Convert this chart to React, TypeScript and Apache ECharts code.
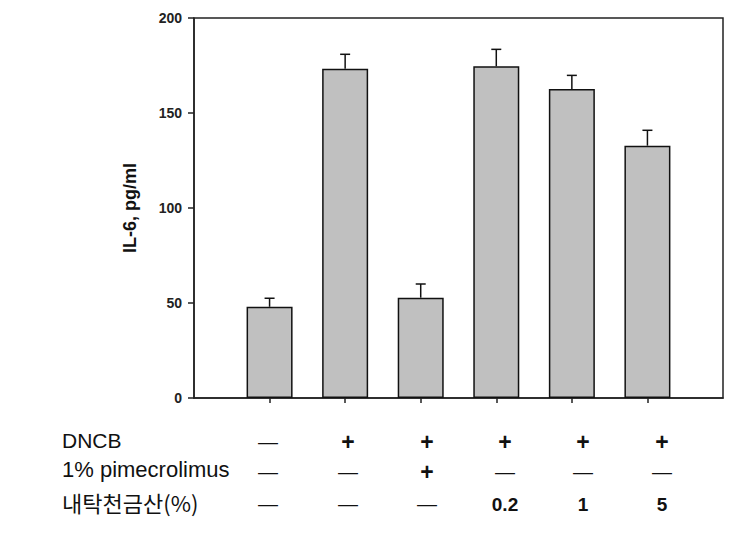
import React, { useEffect, useRef } from "react";
import * as echarts from "echarts";

// Data
const groups = ["Control", "DNCB", "DNCB + 1% pimecrolimus", "DNCB + 0.2%", "DNCB + 1%", "DNCB + 5%"];
const groupPos = [1, 2, 3, 4, 5, 6];
const il6Mean = [48, 173.3, 52.8, 174.6, 162.6, 132.8];
const il6ErrTop = [52.5, 180.9, 60, 183.5, 169.8, 140.9];
const yTicks = [0, 50, 100, 150, 200];

const rowLabels = ["DNCB", "1% pimecrolimus", "내탁천금산(%)"];
const rowDNCB = ["—", "+", "+", "+", "+", "+"];
const rowPime = ["—", "—", "+", "—", "—", "—"];
const rowHerb = ["—", "—", "—", "0.2", "1", "5"];

// Layout (positions only)
const colX = [268, 348, 427, 505, 583, 662];
const rowY = [442, 472, 504];
const labelY = [440, 469, 502];
const labelX = 62;

export default function App() {
  const ref = useRef<HTMLDivElement>(null);
  useEffect(() => {
    if (!ref.current) return;
    const chart = echarts.init(ref.current, null, { renderer: "svg" });
    const rows = [rowDNCB, rowPime, rowHerb];
    const graphics: any[] = [];
    rowLabels.forEach((l, i) => {
      graphics.push({
        type: "text",
        x: labelX,
        y: labelY[i],
        style: {
          text: l,
          verticalAlign: "middle",
          font: i === 2 ? "22px 'Noto Sans CJK KR', Arial, sans-serif" : i === 0 ? "21px Arial, 'Liberation Sans', sans-serif" : "22px Arial, 'Liberation Sans', sans-serif",
          fill: "#111",
        },
      });
    });
    rows.forEach((r, i) => {
      r.forEach((s, j) => {
        const isDash = s === "—";
        graphics.push({
          type: "text",
          x: colX[j],
          y: rowY[i],
          style: {
            text: s,
            align: "center",
            verticalAlign: "middle",
            font: isDash
              ? "20px Arial, 'Liberation Sans', sans-serif"
              : s === "+"
              ? "bold 23px Arial, 'Liberation Sans', sans-serif"
              : "bold 19px Arial, 'Liberation Sans', sans-serif",
            fill: "#111",
          },
        });
      });
    });

    chart.setOption({
      animation: false,
      backgroundColor: "#fff",
      grid: {
        left: 194,
        top: 18,
        right: 31,
        bottom: 146,
        show: true,
        borderColor: "#222",
        borderWidth: 1.5,
      },
      xAxis: {
        type: "value",
        min: 0,
        max: 7,
        interval: 1,
        splitLine: { show: false },
        axisLine: { show: true, lineStyle: { color: "#222", width: 1.5 } },
        axisTick: {
          show: true,
          inside: false,
          length: 5,
          customValues: groupPos,
          lineStyle: { color: "#222", width: 1.5 },
        },
        axisLabel: { show: false },
      },
      yAxis: {
        type: "value",
        min: 0,
        max: 200,
        interval: 50,
        name: "IL-6, pg/ml",
        nameLocation: "middle",
        nameGap: 55,
        nameTextStyle: { fontFamily: "Arial, 'Liberation Sans', sans-serif", fontWeight: "bold", fontSize: 18, color: "#111" },
        splitLine: { show: false },
        axisLine: { show: true, lineStyle: { color: "#222", width: 1.5 } },
        axisTick: { show: true, length: 6, lineStyle: { color: "#222", width: 1.5 } },
        axisLabel: {
          margin: 12,
          fontFamily: "Arial, 'Liberation Sans', sans-serif",
          fontWeight: "bold",
          fontSize: 14,
          color: "#222",
          customValues: yTicks,
        },
      },
      series: [
        {
          type: "bar",
          name: "IL-6",
          data: groupPos.map((x, i) => [x, il6Mean[i]]),
          barWidth: 46,
          itemStyle: { color: "#c0c0c0", borderColor: "#111", borderWidth: 1.5 },
          z: 2,
        },
        {
          type: "custom",
          name: "error",
          data: groupPos.map((x, i) => [x, il6Mean[i], il6ErrTop[i]]),
          z: 3,
          renderItem: (params: any, api: any) => {
            const x = api.value(0);
            const lo = api.coord([x, api.value(1)]);
            const hi = api.coord([x, api.value(2)]);
            const cap = 5;
            const style = { stroke: "#111", lineWidth: 1.5 };
            return {
              type: "group",
              children: [
                { type: "line", shape: { x1: lo[0], y1: lo[1], x2: hi[0], y2: hi[1] }, style },
                { type: "line", shape: { x1: hi[0] - cap, y1: hi[1], x2: hi[0] + cap, y2: hi[1] }, style },
              ],
            };
          },
        },
      ],
      graphic: graphics,
    });
    return () => chart.dispose();
  }, []);
  return (
    <div
      ref={ref}
      style={{ position: "fixed", left: 0, top: 0, width: 754, height: 544 }}
      aria-label={groups.join(", ")}
    />
  );
}
